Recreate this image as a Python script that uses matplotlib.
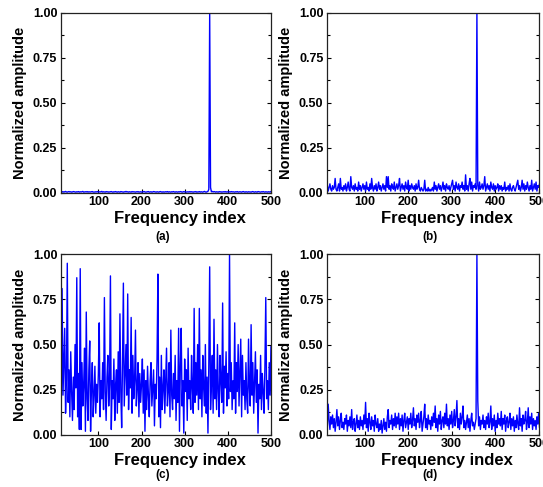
import matplotlib
matplotlib.use("Agg")
import matplotlib.pyplot as plt
import numpy as np
from matplotlib.ticker import MultipleLocator, FormatStrFormatter

plt.rcParams['font.family'] = ['Liberation Sans', 'DejaVu Sans']
plt.rcParams['font.weight'] = 'bold'

# frequency index of the first value and step between values;
# each row below holds 20 consecutive samples (40 indices)
start_index = 12
index_step = 2
x_lo, x_hi = 13, 500

# (a) amplitudes in thousandths
amp_a = [
    6, 5, 7, 4, 6, 5, 8, 5, 4, 6, 7, 5, 6, 4, 5, 7, 6, 5, 4, 6,
    5, 7, 4, 6, 5, 6, 8, 4, 5, 6, 5, 7, 4, 6, 5, 5, 6, 7, 4, 5,
    4, 6, 5, 7, 4, 5, 6, 5, 8, 4, 6, 5, 4, 7, 5, 6, 4, 5, 6, 7,
    5, 4, 6, 5, 7, 5, 4, 6, 5, 4, 7, 6, 5, 4, 6, 5, 8, 5, 6, 4,
    6, 5, 4, 7, 5, 6, 5, 4, 6, 5, 7, 4, 5, 6, 4, 5, 6, 7, 5, 4,
    5, 6, 7, 4, 5, 6, 4, 5, 7, 6, 5, 4, 6, 5, 4, 6, 7, 5, 4, 6,
    4, 5, 6, 5, 7, 4, 6, 5, 4, 6, 5, 7, 5, 4, 6, 5, 4, 6, 5, 7,
    6, 4, 5, 7, 5, 6, 4, 5, 6, 4, 7, 5, 6, 5, 4, 6, 5, 7, 4, 5,
    5, 7, 4, 6, 5, 4, 6, 8, 5, 4, 6, 8, 20, 1000, 30, 6, 8, 5, 7, 6,
    4, 6, 5, 4, 7, 5, 6, 4, 5, 6, 5, 7, 4, 6, 5, 4, 6, 5, 7, 5,
    6, 5, 4, 6, 5, 7, 4, 5, 6, 5, 4, 6, 7, 5, 4, 6, 5, 4, 6, 5,
    5, 4, 6, 7, 5, 4, 6, 5, 4, 7, 6, 5, 4, 6, 5, 7, 5, 4, 6, 5,
    4, 6, 5, 5, 7, 4, 6, 5, 6, 4, 5, 7, 5, 4, 6, 5, 6, 4, 7, 5,
]

# (b) amplitudes in percent
amp_b = [
    2, 4, 1, 3, 5, 2, 1, 4, 2, 3, 8, 2, 1, 3, 5, 1, 8, 2, 3, 1,
    4, 2, 5, 1, 3, 6, 2, 1, 9, 3, 2, 4, 1, 5, 2, 3, 1, 6, 2, 4,
    1, 3, 5, 2, 4, 1, 6, 2, 3, 1, 5, 2, 8, 3, 1, 4, 2, 5, 1, 3,
    6, 2, 4, 1, 3, 5, 2, 4, 1, 9, 3, 9, 2, 4, 1, 5, 3, 2, 6, 1,
    3, 5, 2, 4, 8, 1, 3, 5, 2, 4, 1, 6, 3, 2, 7, 1, 4, 2, 5, 3,
    2, 4, 1, 5, 2, 3, 7, 2, 1, 3, 2, 1, 2, 7, 1, 2, 1, 3, 1, 2,
    1, 2, 3, 1, 6, 2, 4, 1, 3, 5, 2, 4, 1, 3, 6, 2, 4, 1, 5, 3,
    2, 4, 1, 3, 5, 7, 2, 4, 1, 6, 3, 2, 5, 1, 4, 3, 6, 2, 4, 1,
    10, 2, 4, 1, 5, 8, 2, 6, 1, 4, 3, 5, 2, 100, 4, 1, 6, 2, 3, 5,
    2, 4, 9, 1, 3, 5, 2, 4, 1, 6, 3, 2, 5, 1, 4, 2, 3, 5, 1, 4,
    2, 4, 1, 3, 2, 6, 1, 3, 2, 4, 1, 5, 2, 1, 3, 4, 2, 1, 3, 5,
    7, 2, 4, 1, 3, 7, 2, 5, 1, 4, 2, 6, 3, 1, 4, 2, 7, 1, 3, 5,
    2, 6, 1, 4, 3, 5, 2, 4, 1, 3, 5, 2, 4, 1, 3, 2, 4, 1, 3, 2,
]

# (c) amplitudes in percent
amp_c = [
    38, 14, 81, 22, 40, 59, 12, 30, 95, 18, 36, 10, 46, 24, 8, 32, 14, 50, 26, 87,
    10, 34, 3, 92, 3, 40, 16, 28, 48, 2, 68, 20, 8, 36, 52, 2, 26, 40, 10, 22,
    38, 12, 28, 18, 34, 62, 10, 30, 20, 40, 14, 76, 24, 8, 32, 44, 16, 28, 88, 3,
    30, 20, 42, 8, 28, 36, 12, 46, 18, 67, 24, 4, 40, 84, 16, 34, 50, 22, 78, 14,
    36, 26, 65, 12, 44, 20, 30, 58, 16, 26, 40, 10, 34, 18, 28, 42, 12, 36, 2, 30,
    14, 38, 22, 10, 30, 40, 16, 26, 36, 5, 28, 20, 42, 89, 10, 32, 4, 44, 14, 26,
    36, 12, 30, 48, 16, 24, 40, 10, 58, 22, 14, 34, 20, 44, 8, 30, 18, 59, 2, 38,
    59, 16, 30, 1, 42, 24, 36, 8, 48, 20, 30, 14, 44, 26, 12, 70, 18, 40, 22, 50,
    14, 70, 20, 36, 10, 44, 26, 16, 50, 12, 32, 1, 40, 93, 14, 28, 44, 12, 64, 20,
    36, 14, 50, 24, 10, 44, 30, 18, 73, 12, 38, 26, 46, 16, 34, 20, 100, 24, 40, 14,
    30, 20, 62, 12, 40, 24, 50, 16, 34, 53, 10, 44, 22, 30, 14, 40, 20, 12, 53, 26,
    16, 61, 22, 40, 12, 30, 46, 18, 36, 1, 28, 20, 44, 14, 34, 24, 12, 38, 76, 20,
    30, 14, 40, 22, 49, 16, 34, 12, 28, 20, 36, 14, 30, 22, 26, 18, 32, 14, 28, 20,
]

# (d) amplitudes in percent
amp_d = [
    12, 5, 17, 8, 3, 10, 6, 11, 4, 9, 2, 7, 14, 5, 10, 3, 8, 12, 4, 7,
    3, 9, 6, 11, 2, 8, 5, 10, 4, 14, 3, 7, 9, 2, 6, 11, 4, 8, 3, 10,
    5, 8, 3, 11, 6, 18, 4, 9, 2, 12, 7, 3, 10, 5, 8, 2, 11, 6, 4, 9,
    2, 6, 3, 8, 1, 5, 9, 3, 7, 2, 10, 14, 4, 8, 6, 11, 3, 9, 5, 12,
    4, 10, 6, 12, 3, 9, 5, 11, 2, 8, 12, 4, 7, 10, 3, 9, 6, 12, 4, 8,
    15, 5, 9, 3, 11, 7, 12, 4, 8, 13, 2, 6, 10, 17, 4, 9, 3, 11, 6, 8,
    3, 10, 5, 12, 7, 16, 4, 9, 2, 11, 6, 13, 3, 8, 10, 4, 12, 6, 17, 5,
    9, 3, 11, 6, 13, 4, 8, 14, 5, 10, 19, 4, 9, 3, 12, 6, 10, 16, 4, 8,
    3, 7, 11, 4, 9, 2, 8, 12, 5, 7, 3, 6, 9, 100, 19, 5, 10, 3, 8, 6,
    11, 4, 8, 3, 10, 6, 12, 4, 7, 16, 3, 9, 5, 11, 2, 8, 4, 12, 6, 9,
    5, 13, 3, 9, 6, 11, 2, 8, 10, 4, 7, 12, 3, 9, 5, 10, 2, 8, 4, 11,
    6, 3, 15, 5, 9, 2, 11, 6, 8, 13, 3, 7, 15, 4, 10, 6, 12, 3, 9, 5,
    8, 3, 10, 6, 12, 4, 9, 5, 11, 3, 7, 10, 4, 8, 2, 9, 5, 7, 3, 6,
]

panels = [
    ('(a)', np.array(amp_a) / 1000.0),
    ('(b)', np.array(amp_b) / 100.0),
    ('(c)', np.array(amp_c) / 100.0),
    ('(d)', np.array(amp_d) / 100.0),
]
x_ticks = [100, 200, 300, 400, 500]

fig = plt.figure(figsize=(5.43, 4.87), dpi=100)
# axes boxes in figure fractions: left, bottom, width, height
boxes = [
    [0.112, 0.604, 0.387, 0.370],
    [0.602, 0.604, 0.390, 0.370],
    [0.112, 0.107, 0.387, 0.371],
    [0.602, 0.107, 0.390, 0.371],
]
caption_y = [0.513, 0.513, 0.025, 0.025]

for (name, amp), box, cy in zip(panels, boxes, caption_y):
    ax = fig.add_axes(box)
    x = start_index + index_step * np.arange(len(amp))
    ax.plot(x, amp, color='#0000ff', lw=1.0)
    ax.set_xlim(x_lo, x_hi)
    ax.set_ylim(0, 1.0)
    ax.set_xticks(x_ticks)
    ax.yaxis.set_major_locator(MultipleLocator(0.25))
    ax.yaxis.set_minor_locator(MultipleLocator(0.125))
    ax.yaxis.set_major_formatter(FormatStrFormatter('%.2f'))
    ax.tick_params(axis='both', which='both', direction='in', right=True,
                   labelsize=9, pad=2.5)
    ax.tick_params(which='major', length=3, width=0.8)
    ax.tick_params(which='minor', length=2, width=0.8)
    for s in ax.spines.values():
        s.set_linewidth(0.9)
        s.set_color('#222222')
    ax.set_xlabel('Frequency index', fontsize=12, fontweight='bold',
                  labelpad=2, x=0.567)
    ax.set_ylabel('Normalized amplitude', fontsize=10.5, fontweight='bold',
                  labelpad=4)
    fig.text(box[0] + box[2] * 0.485, cy, name, ha='center', va='center',
             fontsize=8.5, fontweight='bold')

fig.savefig('out.png', dpi=100)
